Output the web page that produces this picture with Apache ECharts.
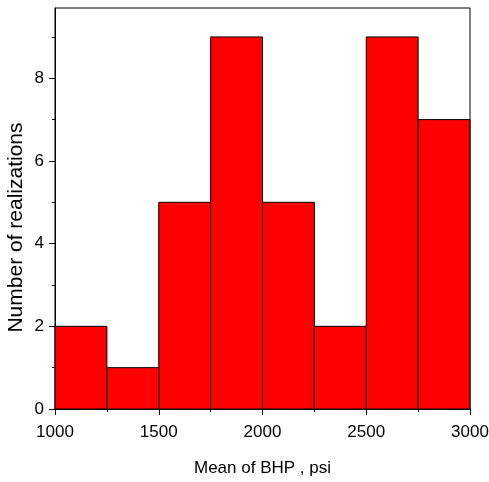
<!DOCTYPE html>
<html><head><meta charset="utf-8">
<script src="https://cdn.jsdelivr.net/npm/echarts@6/dist/echarts.min.js"></script>
<style>html,body{margin:0;padding:0;background:#fff}#c{width:489px;height:482px}</style>
</head><body><div id="c"></div>
<script>
const binStarts = [1000, 1250, 1500, 1750, 2000, 2250, 2500, 2750];
const binWidth = 250;
const counts = [2, 1, 5, 9, 5, 2, 9, 7];
const yMajorTicks = [0, 2, 4, 6, 8];
const yMinorTicks = [1, 3, 5, 7, 9];
const xTitle = 'Mean of BHP , psi';
const yTitle = 'Number of realizations';

const data = binStarts.map((s, i) => [s, s + binWidth, counts[i]]);
const chart = echarts.init(document.getElementById('c'));
const font = 'Liberation Sans, Arial, sans-serif';
chart.setOption({
  animation: false,
  grid: {left: 55, right: 19, top: 8, bottom: 73, show: true, borderColor: '#000', borderWidth: 1, backgroundColor: 'transparent', containLabel: false, outerBoundsMode: 'none'},
  xAxis: {
    type: 'value', min: 1000, max: 3000, interval: 500,
    name: xTitle, nameLocation: 'middle', nameGap: 51,
    nameTextStyle: {fontFamily: font, fontSize: 17, color: '#000'},
    axisLine: {show: true, lineStyle: {color: '#000', width: 1}},
    axisTick: {show: true, length: 6, lineStyle: {color: '#000'}},
    minorTick: {show: true, splitNumber: 2, length: 3, lineStyle: {color: '#000'}},
    axisLabel: {fontFamily: font, fontSize: 17, color: '#000', margin: 15, formatter: v => String(v)},
    splitLine: {show: false}
  },
  yAxis: [{
    type: 'value', min: 0, max: 9.7,
    axisLine: {show: true, lineStyle: {color: '#000', width: 1}},
    axisTick: {show: true, length: 6, customValues: yMajorTicks, lineStyle: {color: '#000'}},
    axisLabel: {fontFamily: font, fontSize: 17, color: '#000', margin: 11, customValues: yMajorTicks},
    splitLine: {show: false}
  }, {
    type: 'value', min: 0, max: 9.7, position: 'left',
    axisLine: {show: false},
    axisTick: {show: true, length: 3, customValues: yMinorTicks, lineStyle: {color: '#000'}},
    axisLabel: {show: false},
    splitLine: {show: false}
  }],
  graphic: [{
    type: 'text', x: 16.5, y: 227.5, rotation: Math.PI / 2,
    style: {text: yTitle, fontFamily: font, fontSize: 21, fill: '#000', align: 'center', verticalAlign: 'middle'}
  }],
  series: [{
    type: 'custom',
    data: data,
    encode: {x: [0, 1], y: 2},
    renderItem: function (params, api) {
      const p0 = api.coord([api.value(0), 0]);
      const p1 = api.coord([api.value(1), api.value(2)]);
      return {
        type: 'rect',
        shape: {x: p0[0], y: p1[1], width: p1[0] - p0[0], height: p0[1] - p1[1]},
        style: {fill: '#ff0000', stroke: '#000', lineWidth: 1}
      };
    }
  }]
});
</script></body></html>
